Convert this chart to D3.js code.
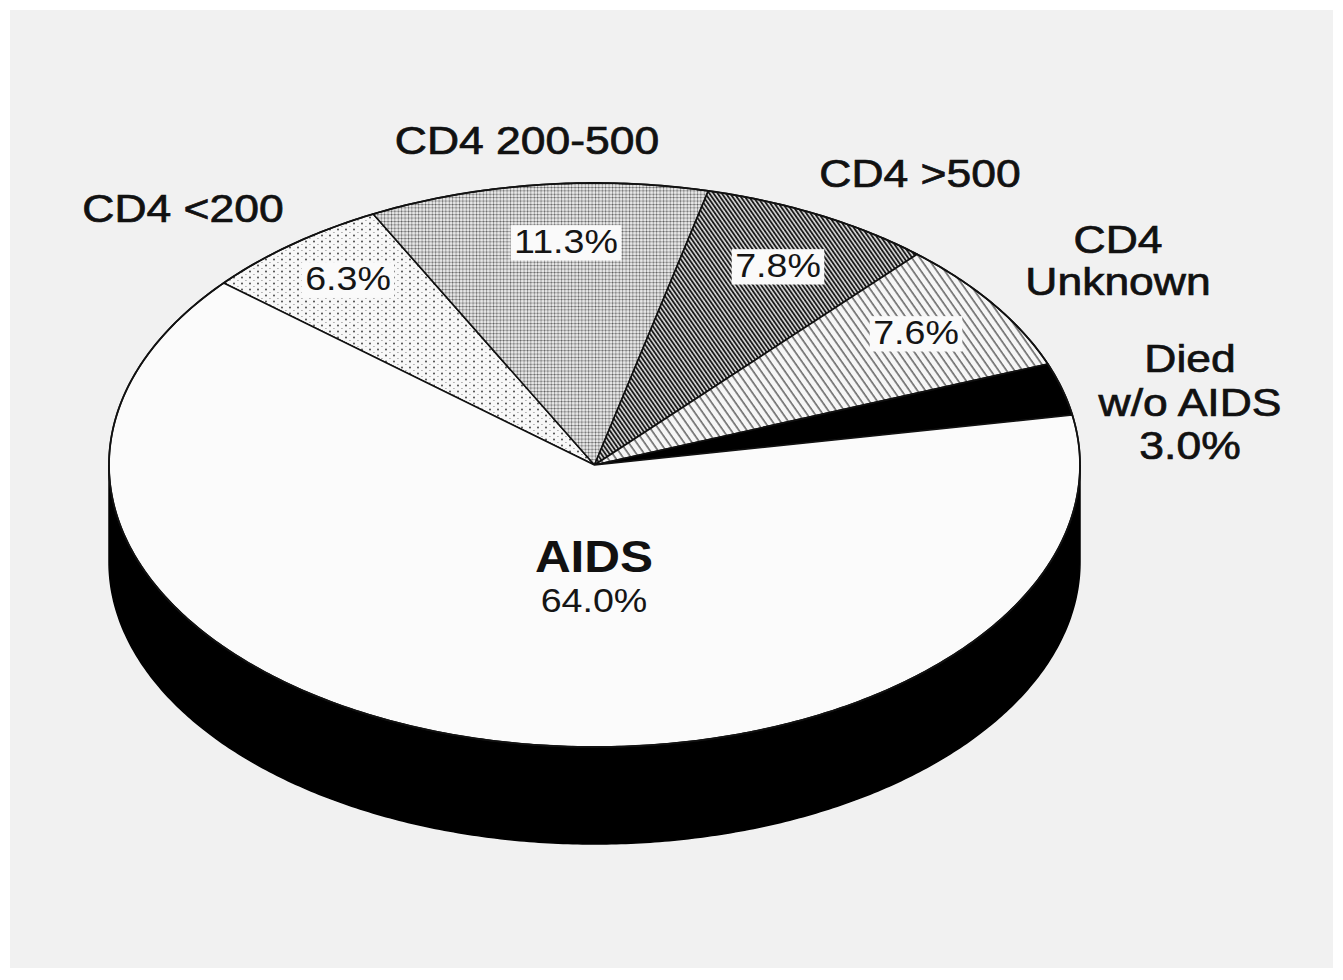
<!DOCTYPE html>
<html>
<head>
<meta charset="utf-8">
<script src="https://cdn.jsdelivr.net/npm/d3@7"></script>
<style>
  html, body { margin: 0; padding: 0; background: #ffffff; }
  svg { display: block; }
  text { font-family: "Liberation Sans", Arial, Helvetica, sans-serif; }
</style>
</head>
<body>
<svg id="chart" width="1343" height="980"></svg>
<script>
// ---- data ----
const categories = ["CD4 <200", "CD4 200-500", "CD4 >500", "CD4 Unknown", "Died w/o AIDS", "AIDS"];
const shares     = [6.3, 11.3, 7.8, 7.6, 3.0, 64.0];

// ---- styling per category ----
const sliceFill = {
  "CD4 <200": "url(#dotsSparse)",
  "CD4 200-500": "url(#dotsDense)",
  "CD4 >500": "url(#hatchDense)",
  "CD4 Unknown": "url(#hatchSparse)",
  "Died w/o AIDS": "#000000",
  "AIDS": "#fbfbfb"
};

// ---- layout ----
const W = 1343, H = 980;
const cx = 594.5, cy = 465, rx = 485.5, ry = 282, depth = 97;
const start = -49.8 * Math.PI / 180;

// outer category labels: lines of text with anchor point and baseline step
const outerLabels = [
  { key: "CD4 <200",      lines: ["CD4 <200"],               x: 183,  y: 222, step: 0 },
  { key: "CD4 200-500",   lines: ["CD4 200-500"],            x: 527,  y: 154, step: 0 },
  { key: "CD4 >500",      lines: ["CD4 >500"],               x: 920,  y: 187, step: 0 },
  { key: "CD4 Unknown",   lines: ["CD4", "Unknown"],         x: 1118, y: 253, step: 42 },
  { key: "Died w/o AIDS", lines: ["Died", "w/o AIDS", null], x: 1190, y: 372, step: 43.5 }
];
// inner percentage labels (slice key -> centre point)
const innerLabels = [
  { key: "CD4 <200",    x: 348, y: 290 },
  { key: "CD4 200-500", x: 566, y: 253 },
  { key: "CD4 >500",    x: 778, y: 277 },
  { key: "CD4 Unknown", x: 916, y: 344 }
];

const fmt = v => v.toFixed(1) + "%";
const svg = d3.select("#chart");

// ---- patterns ----
const defs = svg.append("defs");
{
  const p = defs.append("pattern").attr("id", "dotsSparse")
    .attr("patternUnits", "userSpaceOnUse").attr("width", 8).attr("height", 6);
  p.append("rect").attr("width", 8).attr("height", 6).attr("fill", "#f8f8f8");
  p.append("circle").attr("cx", 2).attr("cy", 1.5).attr("r", 0.9).attr("fill", "#3a3a3a");
  p.append("rect").attr("x", 5).attr("y", 4).attr("width", 1.8).attr("height", 1).attr("fill", "#b4b4b4");
}
{
  const s = 3.4;
  const p = defs.append("pattern").attr("id", "dotsDense")
    .attr("patternUnits", "userSpaceOnUse").attr("width", s).attr("height", s);
  p.append("rect").attr("width", s).attr("height", s).attr("fill", "#e6e6e6");
  p.append("rect").attr("width", s).attr("height", 0.9).attr("fill", "#a0a0a0");
  p.append("rect").attr("width", 0.9).attr("height", s).attr("fill", "#a0a0a0");
  p.append("rect").attr("width", 1).attr("height", 1).attr("fill", "#555");
}
{
  const s = 3.4;
  const p = defs.append("pattern").attr("id", "hatchDense")
    .attr("patternUnits", "userSpaceOnUse").attr("width", s).attr("height", 10)
    .attr("patternTransform", "rotate(-35)");
  p.append("rect").attr("width", s).attr("height", 10).attr("fill", "#e2e2e2");
  p.append("line").attr("x1", 1).attr("x2", 1).attr("y1", 0).attr("y2", 10)
    .attr("stroke", "#111").attr("stroke-width", 1.8);
}
{
  const s = 6.5;
  const p = defs.append("pattern").attr("id", "hatchSparse")
    .attr("patternUnits", "userSpaceOnUse").attr("width", s).attr("height", 10)
    .attr("patternTransform", "rotate(-35)");
  p.append("rect").attr("width", s).attr("height", 10).attr("fill", "#f6f6f6");
  p.append("line").attr("x1", 1).attr("x2", 1).attr("y1", 0).attr("y2", 10)
    .attr("stroke", "#2a2a2a").attr("stroke-width", 1.1);
}

// ---- paper ----
svg.append("rect").attr("x", 10).attr("y", 10).attr("width", W - 20).attr("height", H - 22)
  .attr("fill", "#f1f1f1");

// ---- geometry helpers ----
const pt = (a, f = 1, dy = 0) => [cx + f * rx * Math.sin(a), cy - f * ry * Math.cos(a) + dy];
const sample = (a0, a1, dy = 0) => {
  const n = Math.max(8, Math.ceil(Math.abs(a1 - a0) / 0.01));
  return d3.range(n + 1).map(i => pt(a0 + (a1 - a0) * i / n, 1, dy));
};
const line = d3.line();

const pie = d3.pie().sort(null).value(d => d.value)
  .startAngle(start).endAngle(start + 2 * Math.PI);
const arcs = pie(categories.map((c, i) => ({ key: c, value: shares[i] })));

// ---- side wall (front half of the disc) ----
const rimFront = sample(Math.PI / 2, 3 * Math.PI / 2);
const rimBase = sample(3 * Math.PI / 2, Math.PI / 2, depth);
svg.append("path")
  .attr("d", line(rimFront.concat(rimBase)) + "Z")
  .attr("fill", "#000").attr("stroke", "#000").attr("stroke-width", 1.5);

// ---- top face slices ----
svg.append("g").selectAll("path").data(arcs).join("path")
  .attr("d", d => line([[cx, cy]].concat(sample(d.startAngle, d.endAngle))) + "Z")
  .attr("fill", d => sliceFill[d.data.key])
  .attr("stroke", "#111").attr("stroke-width", 1.6).attr("stroke-linejoin", "round");

// rim outline
svg.append("path")
  .attr("d", line(sample(0, 2 * Math.PI)) + "Z")
  .attr("fill", "none").attr("stroke", "#111").attr("stroke-width", 1.8);

// ---- labels ----
const byKey = Object.fromEntries(arcs.map(d => [d.data.key, d]));
const sx = 1.17;

const outer = svg.append("g");
outerLabels.forEach(L => {
  L.lines.forEach((t, i) => {
    const txt = t === null ? fmt(byKey[L.key].data.value) : t;
    outer.append("text")
      .attr("transform", `translate(${L.x},${L.y + i * L.step}) scale(${sx},1)`)
      .attr("text-anchor", "middle")
      .attr("font-size", 38)
      .attr("fill", "#111").attr("stroke", "#111").attr("stroke-width", 0.7)
      .text(txt);
  });
});

const inner = svg.append("g");
innerLabels.forEach(L => {
  const g = inner.append("g").attr("transform", `translate(${L.x},${L.y}) scale(1.14,1)`);
  const t = g.append("text").attr("text-anchor", "middle").attr("font-size", 33)
    .attr("fill", "#151515").text(fmt(byKey[L.key].data.value));
  const b = t.node().getBBox();
  g.insert("rect", "text")
    .attr("x", b.x - 3).attr("y", b.y + 2).attr("width", b.width + 6).attr("height", b.height - 1)
    .attr("fill", "#fafafa");
});

// AIDS label on the large slice
const aids = byKey["AIDS"];
svg.append("text")
  .attr("transform", `translate(594,572) scale(1.1,1)`)
  .attr("text-anchor", "middle").attr("font-size", 45).attr("font-weight", "bold")
  .attr("fill", "#111").text(aids.data.key);
svg.append("text")
  .attr("transform", `translate(594,612) scale(1.14,1)`)
  .attr("text-anchor", "middle").attr("font-size", 33)
  .attr("fill", "#151515").text(fmt(aids.data.value));
</script>
</body>
</html>
